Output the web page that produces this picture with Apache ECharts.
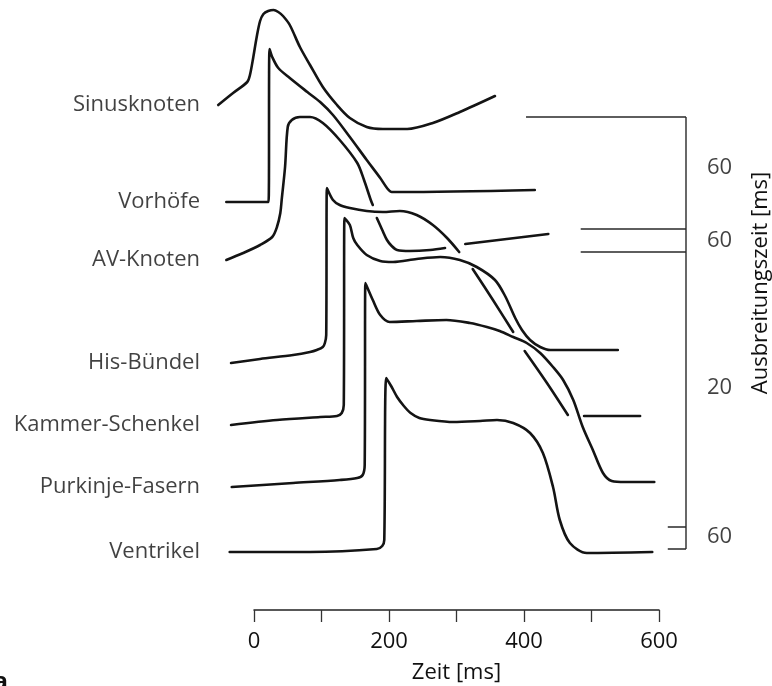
<!DOCTYPE html>
<html>
<head>
<meta charset="utf-8">
<script src="https://cdn.jsdelivr.net/npm/echarts@6/dist/echarts.min.js"></script>
<style>
  html, body { margin: 0; padding: 0; background: #fff; }
  #chart { width: 772px; height: 686px; }
</style>
</head>
<body>
<div id="chart"></div>
<script>
// Aktionspotentiale des Erregungsleitungssystems, gestaffelt dargestellt.
// Jede Kurve: [Zeit in ms, relative Höhe]; null trennt Kurvenstücke an Überkreuzungen.

const traceNames = ['Sinusknoten', 'Vorhöfe', 'AV-Knoten', 'His-Bündel',
  'Kammer-Schenkel', 'Purkinje-Fasern', 'Ventrikel'];

const sinusknoten = [[-53, 505], [-31, 517], [-10, 528], [-6, 535], [-1, 553], [4, 573],
  [9, 589], [14, 596], [21, 599], [29, 600], [36, 598], [43, 594], [53, 585], [68, 563],
  [83, 545], [102, 523], [123, 505], [142, 492], [167, 483], [191, 481], [227, 481],
  [265, 487], [305, 498], [357, 514]];

const vorhoefe = [[-41, 408], [21.5, 408], [23, 561], [27, 553], [36, 542], [53, 532],
  [79, 518], [98, 508], [117, 495], [142, 473], [167, 450], [187, 432], [197, 422],
  [204, 418], [216, 418], [416, 420]];

const avKnoten = [[-41, 350], [-16, 357], [9, 365], [27, 373], [34, 383], [39, 397],
  [41, 410], [46, 443], [50, 483], [56, 490], [68, 493], [83, 493], [102, 487], [127, 470],
  [153, 447], [163, 430], [173, 410], [176, 405], null,
  [182, 392], [190, 380], [197, 370], [204, 364], [212, 360], [231, 359], [261, 360], [283, 362], null,
  [313, 366], [436, 376]];

const hisBuendel = [[-34, 247], [9, 251], [58, 255], [83, 258], [93, 260], [102, 263],
  [105, 267], [107, 275], [108, 422], [117, 410], [127, 405], [142, 402], [167, 399],
  [191, 398], [216, 399], [241, 395], [265, 385], [286, 372], [304, 358], null,
  [324, 341], [354, 310], [384, 278], null,
  [401, 259], [434, 227], [465, 195], null,
  [489, 194], [572, 194]];

const kammerSchenkel = [[-34, 185], [34, 190], [98, 193], [123, 194], [130, 197], [133, 205],
  [134, 392], [142, 385], [147, 372], [153, 365], [167, 355], [187, 349], [206, 348],
  [241, 351], [276, 353], [305, 350], [330, 343], [357, 330], [372, 314], [387, 292],
  [397, 280], [409, 270], [424, 263], [439, 260], [539, 260]];

const purkinjeFasern = [[-33, 123], [58, 127], [127, 130], [153, 132], [161, 135], [164, 145],
  [165, 327], [176, 310], [187, 295], [201, 288], [241, 289], [285, 290], [320, 287],
  [345, 283], [364, 279], [384, 273], [404, 267], [424, 257], [443, 243],
  [458, 230], [473, 210], [487, 183], [502, 160], [517, 137], [530, 129], [550, 128], [593, 128]];

const ventrikel = [[-36, 58], [83, 58], [182, 61], [190, 64], [193, 70], [196, 232],
  [204, 223], [212, 213], [222, 204], [232, 197], [245, 192], [261, 190], [295, 188],
  [335, 189], [360, 190], [384, 187], [409, 177], [428, 157], [443, 123], [453, 90],
  [468, 67], [493, 57], [590, 58]];

const traces = [sinusknoten, vorhoefe, avKnoten, hisBuendel, kammerSchenkel, purkinjeFasern, ventrikel];

// Zeitachse
const timeTicks = [0, 100, 200, 300, 400, 500, 600];
const timeLabelStep = 200;

// Ausbreitungszeiten rechts (Klammer)
const spreadLabels = ['60', '60', '20', '60'];
const spreadLabelLevels = [442, 369, 222, 73];
const bracketLevels = [493, 381, 358, 83, 61];
const bracketStarts = [403, 484, 484, 613, 613];
const bracketEnd = 640;

// Layout
const W = 772;
const AXIS_LEFT = 254;
const AXIS_RIGHT = 659;
const PLOT_BOTTOM = 76;
const msPerPx = (timeTicks[timeTicks.length - 1] - timeTicks[0]) / (AXIS_RIGHT - AXIS_LEFT);
const fullMin = timeTicks[0] - AXIS_LEFT * msPerPx;
const fullMax = fullMin + W * msPerPx;

const FONT = '"Open Sans", "Noto Sans", sans-serif';
const INK = '#141414';
const TEXT = '#111';
const labelTime = -80;
const spreadLabelTime = 671;

const toData = arr => arr.map(p => (p === null ? ['-', '-'] : p));

const series = [];

traces.forEach((arr, i) => {
  series.push({
    type: 'line',
    name: traceNames[i],
    xAxisIndex: 0,
    yAxisIndex: 0,
    data: toData(arr),
    showSymbol: false,
    symbol: 'none',
    smooth: 0.3,
    clip: false,
    connectNulls: false,
    silent: true,
    lineStyle: { color: INK, width: 2.6, cap: 'round', join: 'round' },
    z: 3
  });
});

// Bezeichnungen links, auf Höhe des Ruhepotentials jeder Kurve
series.push({
  type: 'scatter',
  xAxisIndex: 0,
  yAxisIndex: 0,
  symbolSize: 0,
  clip: false,
  silent: true,
  data: traces.map((arr, i) => ({ value: [labelTime, arr[0][1]], name: traceNames[i] })),
  label: {
    show: true,
    position: 'left',
    distance: 0,
    formatter: p => p.name,
    fontFamily: FONT,
    fontSize: 22,
    color: TEXT
  }
});

// Klammer der Ausbreitungszeiten
const bracketData = [];
bracketLevels.forEach((lv, i) => {
  bracketData.push([bracketStarts[i], lv], [bracketEnd, lv], ['-', '-']);
});
bracketData.push([bracketEnd, bracketLevels[0]], [bracketEnd, bracketLevels[bracketLevels.length - 1]]);
series.push({
  type: 'line',
  xAxisIndex: 0,
  yAxisIndex: 0,
  data: bracketData,
  showSymbol: false,
  symbol: 'none',
  clip: false,
  silent: true,
  lineStyle: { color: '#2a2a2a', width: 1.4 },
  z: 2
});

series.push({
  type: 'scatter',
  xAxisIndex: 0,
  yAxisIndex: 0,
  symbolSize: 0,
  clip: false,
  silent: true,
  data: spreadLabels.map((t, i) => ({ value: [spreadLabelTime, spreadLabelLevels[i]], name: t })),
  label: {
    show: true,
    position: 'right',
    distance: 0,
    formatter: p => p.name,
    fontFamily: FONT,
    fontSize: 22,
    color: TEXT
  }
});

const chart = echarts.init(document.getElementById('chart'), null, { renderer: 'canvas' });
chart.setOption({
  backgroundColor: '#fff',
  animation: false,
  grid: [
    { left: 0, right: 0, top: 0, bottom: PLOT_BOTTOM, outerBoundsMode: 'none', containLabel: false },
    { left: AXIS_LEFT, right: W - AXIS_RIGHT, top: 0, bottom: PLOT_BOTTOM, outerBoundsMode: 'none', containLabel: false }
  ],
  xAxis: [
    { type: 'value', gridIndex: 0, min: fullMin, max: fullMax, show: false },
    {
      type: 'value',
      gridIndex: 1,
      min: timeTicks[0],
      max: timeTicks[timeTicks.length - 1],
      interval: timeTicks[1] - timeTicks[0],
      name: 'Zeit [ms]',
      nameLocation: 'middle',
      nameGap: 52,
      nameTextStyle: { fontFamily: FONT, fontSize: 22, color: TEXT },
      axisLine: { lineStyle: { color: '#222', width: 1.5 } },
      axisTick: { length: 12, lineStyle: { color: '#333', width: 1.3 } },
      axisLabel: {
        margin: 21,
        fontFamily: FONT,
        fontSize: 22,
        color: TEXT,
        formatter: v => (v % timeLabelStep === 0 ? String(v) : '')
      },
      splitLine: { show: false }
    }
  ],
  yAxis: [
    { type: 'value', gridIndex: 0, min: 0, max: 610, show: false },
    { type: 'value', gridIndex: 1, min: 0, max: 610, show: false }
  ],
  graphic: [
    {
      type: 'text',
      x: 761,
      y: 283,
      rotation: Math.PI / 2,
      silent: true,
      style: {
        text: 'Ausbreitungszeit [ms]',
        align: 'center',
        verticalAlign: 'middle',
        font: '22px ' + FONT,
        fill: TEXT
      }
    },
    {
      type: 'text',
      x: 8,
      y: 694,
      silent: true,
      style: {
        text: 'a',
        align: 'right',
        verticalAlign: 'bottom',
        font: 'bold 24px ' + FONT,
        fill: '#111'
      }
    }
  ],
  series: series
});
</script>
</body>
</html>
